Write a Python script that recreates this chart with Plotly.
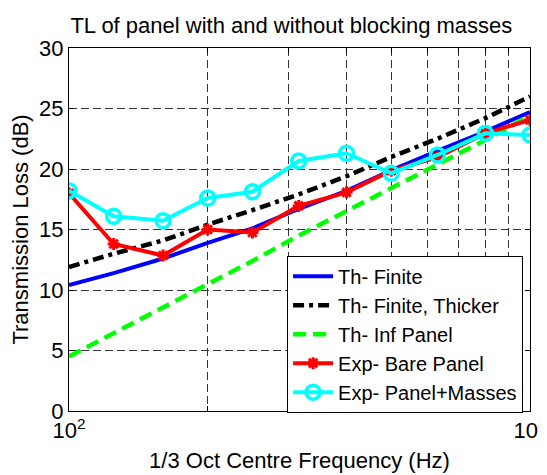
import plotly.graph_objects as go

freq = [100, 125, 160, 200, 250, 315, 400, 500, 630, 800, 1000]
th_finite = [10.4, 11.4, 12.6, 13.9, 15.1, 16.7, 18.2, 19.9, 21.5, 23.1, 24.7]
th_finite_thicker = [11.9, 13.0, 14.1, 15.4, 16.6, 17.9, 19.4, 21.0, 22.5, 24.2, 26.0]
th_inf_panel = [4.5, 6.4, 8.5, 10.5, 12.4, 14.5, 16.5, 18.4, 20.4, 22.4, 24.4]
exp_bare = [18.0, 13.8, 12.85, 15.0, 14.75, 16.95, 18.07, 19.86, 20.97, 22.95, 24.05]
exp_masses = [18.2, 16.1, 15.73, 17.6, 18.12, 20.66, 21.3, 19.64, 21.16, 22.95, 22.81]

x_tickvals = [100, 200, 300, 400, 500, 600, 700, 800, 900, 1000]
x_ticktext = ["10<sup>2</sup>", "", "", "", "", "", "", "", "", "10<sup>3</sup>"]
y_tickvals = [0, 5, 10, 15, 20, 25, 30]

FONT = "Liberation Sans, Arial, sans-serif"

fig = go.Figure()
fig.add_trace(go.Scatter(x=freq, y=th_finite, mode="lines", name="Th- Finite",
                         line=dict(color="#0000FF", width=4)))
fig.add_trace(go.Scatter(x=freq, y=th_finite_thicker, mode="lines", name="Th- Finite, Thicker",
                         line=dict(color="#000000", width=4.5, dash="11px,5px,4px,5px")))
fig.add_trace(go.Scatter(x=freq, y=th_inf_panel, mode="lines", name="Th- Inf Panel",
                         line=dict(color="#00FF00", width=4.5, dash="13px,7px")))
fig.add_trace(go.Scatter(x=freq, y=exp_bare, mode="lines+markers", name="Exp- Bare Panel",
                         line=dict(color="#FF0000", width=4),
                         marker=dict(symbol="asterisk-open", size=10, color="#FF0000",
                                     line=dict(color="#FF0000", width=3))))
fig.add_trace(go.Scatter(x=freq, y=exp_masses, mode="lines+markers", name="Exp- Panel+Masses",
                         line=dict(color="#00FFFF", width=4),
                         marker=dict(symbol="circle-open", size=14, color="#00FFFF",
                                     line=dict(color="#00FFFF", width=3.5))))

# page body has an 8px default margin; margins are set so the plot lands where the reference has it
fig.update_layout(
    width=547, height=475,
    margin=dict(l=61, r=25, t=40, b=72, autoexpand=False),
    paper_bgcolor="white", plot_bgcolor="white",
    font=dict(family=FONT, size=22, color="black"),
    title=dict(text="TL of panel with and without blocking masses",
               x=0.518, xref="container", xanchor="center",
               y=0.964, yref="container", yanchor="middle",
               font=dict(size=22)),
    showlegend=True,
    legend=dict(x=0.985, xanchor="right", y=0.428, yanchor="top",
                bgcolor="white", bordercolor="black", borderwidth=1,
                font=dict(size=20), tracegroupgap=0, itemwidth=40),
)
fig.update_xaxes(type="log", range=[2, 3], automargin=False,
                 tickvals=x_tickvals, ticktext=x_ticktext, ticklabeloverflow="allow",
                 ticks="inside", ticklen=5, tickcolor="black",
                 showline=True, linecolor="black", linewidth=1, mirror="ticks",
                 showgrid=True, gridcolor="#333333", gridwidth=1, griddash="8px,4px",
                 zeroline=False, tickfont=dict(size=22),
                 title=dict(text="1/3 Oct Centre Frequency (Hz)", standoff=10, font=dict(size=22)))
fig.update_yaxes(range=[0, 30], tickvals=y_tickvals, automargin=False,
                 ticks="inside", ticklen=5, tickcolor="black",
                 showline=True, linecolor="black", linewidth=1, mirror="ticks",
                 showgrid=True, gridcolor="#333333", gridwidth=1, griddash="8px,4px",
                 zeroline=False, tickfont=dict(size=22),
                 title=dict(text="Transmission Loss (dB)", standoff=8, font=dict(size=22)))

fig.write_html("out.html")
